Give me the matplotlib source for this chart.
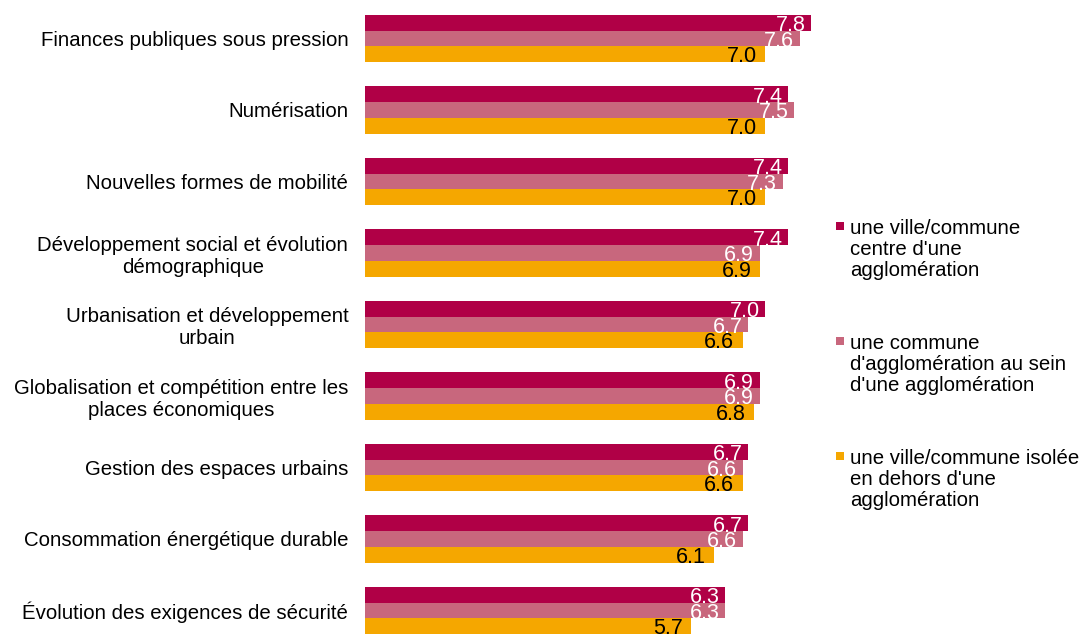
import matplotlib
matplotlib.use("Agg")
import matplotlib.pyplot as plt
from matplotlib.patches import Rectangle
import numpy as np

plt.rcParams['font.family'] = ['Liberation Sans', 'DejaVu Sans']

# Data
categories = [
    "Finances publiques sous pression",
    "Numérisation",
    "Nouvelles formes de mobilité",
    "Développement social et évolution\ndémographique",
    "Urbanisation et développement\nurbain",
    "Globalisation et compétition entre les\nplaces économiques",
    "Gestion des espaces urbains",
    "Consommation énergétique durable",
    "Évolution des exigences de sécurité",
]
centre = [7.8, 7.4, 7.4, 7.4, 7.0, 6.9, 6.7, 6.7, 6.3]
agglo = [7.6, 7.5, 7.3, 6.9, 6.7, 6.9, 6.6, 6.6, 6.3]
isolee = [7.0, 7.0, 7.0, 6.9, 6.6, 6.8, 6.6, 6.1, 5.7]

series_labels = [
    "une ville/commune\ncentre d'une\nagglomération",
    "une commune\nd'agglomération au sein\nd'une agglomération",
    "une ville/commune isolée\nen dehors d'une\nagglomération",
]
colors = ['#B00046', '#C8677D', '#F5A700']
label_colors = ['white', 'white', 'black']

W, H = 1085, 635
fig = plt.figure(figsize=(W / 100, H / 100), dpi=100)
ax = fig.add_axes([365 / W, 0, 457.6 / W, 1])

y = np.arange(len(categories))
bh = 0.22
for i, (vals, col, lc) in enumerate(zip([centre, agglo, isolee], colors, label_colors)):
    pos = y + (i - 1) * bh
    bars = ax.barh(pos, vals, height=bh, color=col, linewidth=0)
    for b, v in zip(bars, vals):
        ax.annotate(f"{v:.1f}", (b.get_width(), b.get_y() + b.get_height() / 2),
                    xytext=(-4 if i < 2 else -6, -2), textcoords='offset points',
                    ha='right', va='center', color=lc, fontsize=15.5)

ax.set_xlim(0, 8)
ax.set_ylim(len(categories) - 1 + 0.343, -0.538)
ax.set_yticks(y)
ax.set_yticklabels(categories, fontsize=14.7, multialignment='center')
ax.tick_params(axis='y', length=0, pad=12)
ax.set_xticks([])
for s in ax.spines.values():
    s.set_visible(False)

# Legend drawn manually (marker aligned to first line)
leg_tops = [219, 334, 449]
for top, lab, col in zip(leg_tops, series_labels, colors):
    fig.add_artist(Rectangle((836 / W, 1 - (top + 11) / H), 8 / W, 8 / H,
                             transform=fig.transFigure, color=col, lw=0))
    fig.text(850 / W, 1 - top / H, lab, ha='left', va='top', fontsize=14.7,
             linespacing=1.13)

fig.savefig("out.png", dpi=100)
